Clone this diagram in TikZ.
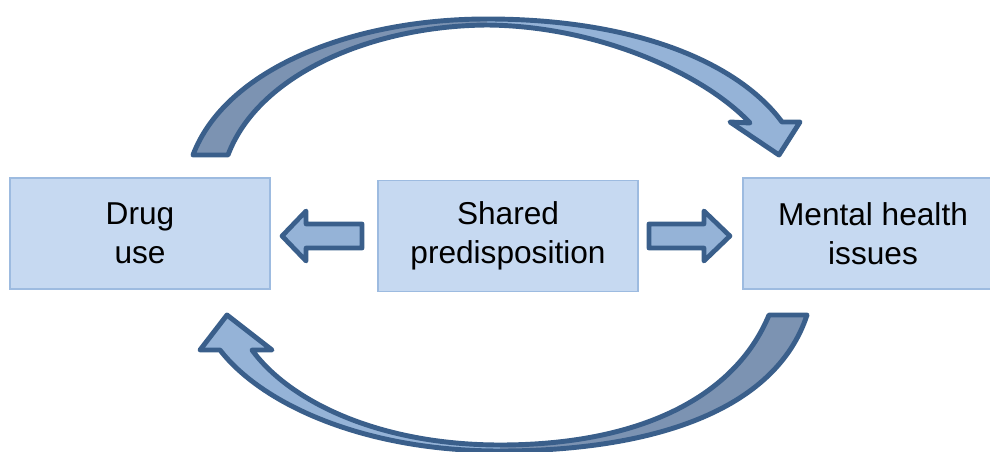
\documentclass[tikz,border=0pt]{standalone}
\usepackage{fontspec}
\setmainfont{Liberation Sans}
\usetikzlibrary{calc}

\definecolor{boxfill}{HTML}{C6D9F1}
\definecolor{boxline}{HTML}{9DBBE0}
\definecolor{arrline}{HTML}{3A5F8B}
\definecolor{arrlight}{HTML}{95B3D7}
\definecolor{arrdark}{HTML}{7C93B2}

\tikzset{
  factor/.style={draw=boxline, fill=boxfill, line width=1.1pt,
    minimum width=5.2cm, minimum height=2.22cm, align=center,
    font=\fontsize{18}{22.5}\selectfont},
  blockarrow/.style={draw=arrline, fill=arrlight, line width=2.7pt, line join=round},
  bendline/.style={draw=arrline, line width=2.8pt, line join=round},
}

% drug use -> mental health (over the top)
\def\uparrow{(193,155) .. controls (225,70) and (350,19) .. (487,19)
  .. controls (640,19) and (740,65) .. (782,122) -- (800,122) -- (779,155)
  -- (730,122) -- (750,123) .. controls (705,75) and (600,26) .. (487,25)
  .. controls (370,26) and (258,75) .. (228,155) -- cycle}
% mental health -> drug use (under the bottom)
\def\downarrow{(807,315) .. controls (775,412) and (650,451) .. (500,451)
  .. controls (360,451) and (260,402) .. (220,350) -- (200,350) -- (227,315)
  -- (272,350) -- (252,350) .. controls (290,402) and (380,445) .. (500,445)
  .. controls (640,445) and (735,397) .. (769,315) -- cycle}

\begin{document}
\begin{tikzpicture}[x=0.02cm,y=-0.02cm]
  \clip (0,0) rectangle (990,452);

  \node[factor] (drug) at (140,233.5) {Drug\\use};
  \node[factor] (shared) at (508,236) {Shared\\predisposition};
  \node[factor] (mental) at (873,233.5) {Mental health\\issues};

  \draw[blockarrow] ($(shared.west)+(-15,-12)$) -- ++(-56,0) -- ++(0,-13)
    -- ++(-24,25) -- ++(24,25) -- ++(0,-13) -- ++(56,0) -- cycle;
  \draw[blockarrow] ($(shared.east)+(10,-12)$) -- ++(55,0) -- ++(0,-13)
    -- ++(26,25) -- ++(-26,25) -- ++(0,-13) -- ++(-55,0) -- cycle;

  \fill[arrlight] \uparrow;
  \begin{scope}
    \clip (0,0) rectangle (487,200);
    \fill[arrdark] \uparrow;
  \end{scope}
  \path[bendline] \uparrow;

  \fill[arrlight] \downarrow;
  \begin{scope}
    \clip (500,300) rectangle (990,452);
    \fill[arrdark] \downarrow;
  \end{scope}
  \path[bendline] \downarrow;
\end{tikzpicture}
\end{document}
